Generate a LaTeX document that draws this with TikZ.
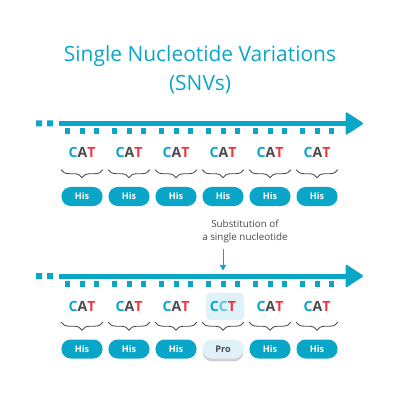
\documentclass[tikz,border=0pt]{standalone}
\usepackage{fontspec}
\setmainfont{Open Sans}
\usetikzlibrary{decorations.pathreplacing,shadows,arrows.meta}
\definecolor{snvteal}{HTML}{0AA6C8}
\definecolor{snvpale}{HTML}{5CC6DD}
\definecolor{snvred}{HTML}{F2323C}
\definecolor{snvgrey}{HTML}{4A4A4A}
\definecolor{snvlight}{HTML}{DFF2F7}
\tikzset{
  codon/.style={font=\fontsize{10}{11}\selectfont\bfseries, inner sep=0pt},
  aminoacid/.style={fill=snvteal, text=white, rounded corners=0.23cm, minimum width=1.025cm,
    minimum height=0.475cm, inner sep=0pt, font=\fontsize{6.5}{7}\selectfont\bfseries},
  mutant/.style={aminoacid, fill=snvlight, text=snvgrey,
    drop shadow={shadow xshift=0pt, shadow yshift=-2pt, opacity=0.3, fill=black!60}},
  codonbrace/.style={draw=snvgrey, line width=0.6pt, decorate,
    decoration={brace, mirror, amplitude=0.2cm, aspect=0.5}},
}
\newcommand{\cat}{{\color{snvteal}C}{\color{snvgrey}A}{\color{snvred}T}}
\begin{document}
\begin{tikzpicture}[x=0.025cm, y=-0.025cm, line join=round]
	\useasboundingbox (0,0) rectangle (400,400);
	\def \ytop{123.5};
	\def \ybot{276};
	\node[text=snvteal, font=\fontsize{14.9}{20.6}\selectfont, align=center] (title) at (200,70)
	  {Single Nucleotide Variations\\(SNVs)};
	% strands with codon ticks
	\foreach \yy in {\ytop,\ybot} {
	  \fill[snvteal] (36,\yy-3) rectangle (42,\yy+3) (47,\yy-3) rectangle (53,\yy+3);
	  \draw[snvteal, line width=0.125cm] (59,\yy) -- (349,\yy);
	  \fill[snvteal, rounded corners=1.5pt] (345.5,\yy-12) -- (364,\yy) -- (345.5,\yy+12) -- cycle;
	  \foreach \i in {1,...,6}
	    \foreach \dx in {-14.5,0,14.5}
	      \fill[snvteal] (35+47*\i+\dx-2.5,\yy+4.5) rectangle (35+47*\i+\dx+2.5,\yy+10.5);
	}
	% reference sequence
	\foreach \i in {1,...,6} {
	  \node[codon] (ca\i) at (35+47*\i,\ytop+28.5) {\cat};
	  \node[aminoacid] (pa\i) at (35+47*\i,\ytop+73) {His};
	  \draw[codonbrace] ([yshift=0.425cm]pa\i.north west) -- ([yshift=0.425cm]pa\i.north east);
	}
	% variant sequence
	\node[fill=snvlight, rounded corners=3pt, minimum width=0.95cm, minimum height=0.675cm] (hl) at (225,306.5) {};
	\foreach \i in {1,2,3,4,5,6} {
	  \ifnum\i=4
	    \node[codon] (cb\i) at (35+47*\i,\ybot+30) {{\color{snvteal}C}{\color{snvpale}C}{\color{snvred}T}};
	    \node[mutant] (pb\i) at (35+47*\i,\ybot+73) {Pro};
	  \else
	    \node[codon] (cb\i) at (35+47*\i,\ybot+30) {\cat};
	    \node[aminoacid] (pb\i) at (35+47*\i,\ybot+73) {His};
	  \fi
	  \draw[codonbrace] ([yshift=0.425cm]pb\i.north west) -- ([yshift=0.425cm]pb\i.north east);
	}
	% substitution marker
	\node[text=snvgrey, font=\fontsize{7}{9.3}\selectfont, align=center] (subst) at (245,231) {Substitution of\\a single nucleotide};
	\coordinate (mtail) at (223,249);
	\coordinate (mhead) at (223,270.5);
	\draw[snvteal, line width=0.7pt, -{Triangle[width=4.5pt,length=4pt]}] (mtail) -- (mhead);
\end{tikzpicture}
\end{document}
